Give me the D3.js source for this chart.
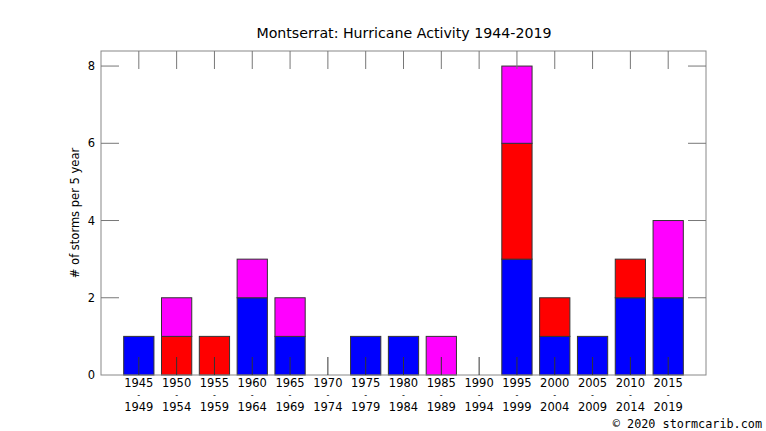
<!DOCTYPE html>
<html>
<head>
<meta charset="utf-8">
<script src="https://cdn.jsdelivr.net/npm/d3@7"></script>
<style>
  body { margin: 0; background: #fff; }
  svg { display: block; font-family: "DejaVu Sans", sans-serif; }
</style>
</head>
<body>
<svg id="chart" width="766" height="431"></svg>
<script>
// data
const startYears = [1945, 1950, 1955, 1960, 1965, 1970, 1975, 1980, 1985, 1990, 1995, 2000, 2005, 2010, 2015];
const blueCounts    = [1, 0, 0, 2, 1, 0, 1, 1, 0, 0, 3, 1, 1, 2, 2];
const redCounts     = [0, 1, 1, 0, 0, 0, 0, 0, 0, 0, 3, 1, 0, 1, 0];
const magentaCounts = [0, 1, 0, 1, 1, 0, 0, 0, 1, 0, 2, 0, 0, 0, 2];
const yTicks = [0, 2, 4, 6, 8];
const seriesColors = ['#0000ff', '#ff0000', '#ff00ff'];

const svg = d3.select('#chart');
const margin = {top: 51, right: 60, bottom: 56, left: 101};
const width = 766 - margin.left - margin.right;
const height = 431 - margin.top - margin.bottom;

const g = svg.append('g').attr('transform', 'translate(' + margin.left + ',' + margin.top + ')');

// one empty slot on each side, like the original
const x = d3.scaleLinear().domain([-1, startYears.length]).range([0, width]);
const y = d3.scaleLinear().domain([0, 8.39]).range([height, 0]);
const step = x(1) - x(0);
const barWidth = step * 0.8;

let rows = startYears.map((yr, i) => ({i: i, b: blueCounts[i], r: redCounts[i], m: magentaCounts[i]}));
let stacked = d3.stack().keys(['b', 'r', 'm'])(rows);

stacked.forEach((layer, k) => {
  g.append('g').selectAll('rect')
    .data(layer.filter(d => d[1] > d[0]))
    .enter()
    .append('rect')
      .attr('x', d => x(d.data.i) - barWidth / 2)
      .attr('y', d => y(d[1]))
      .attr('width', barWidth)
      .attr('height', d => y(d[0]) - y(d[1]))
      .attr('fill', seriesColors[k])
      .attr('stroke', '#333')
      .attr('stroke-width', 1);
});

// frame
g.append('rect')
  .attr('width', width).attr('height', height)
  .attr('fill', 'none').attr('stroke', '#888').attr('stroke-width', 1);

const tickLen = 18;
// x ticks, bottom and top, pointing inward
let xt = g.append('g');
startYears.forEach((yr, i) => {
  xt.append('line')
    .attr('x1', x(i)).attr('x2', x(i))
    .attr('y1', height).attr('y2', height - tickLen)
    .attr('stroke', '#333');
  xt.append('line')
    .attr('x1', x(i)).attr('x2', x(i))
    .attr('y1', 0).attr('y2', tickLen)
    .attr('stroke', '#777');
});

// y ticks left and right
let yt = g.append('g');
yTicks.forEach(t => {
  if (t === 0) return;
  yt.append('line')
    .attr('x1', 0).attr('x2', tickLen)
    .attr('y1', y(t)).attr('y2', y(t))
    .attr('stroke', '#777');
  yt.append('line')
    .attr('x1', width).attr('x2', width - tickLen)
    .attr('y1', y(t)).attr('y2', y(t))
    .attr('stroke', '#777');
});

// y tick labels
g.append('g').selectAll('text')
  .data(yTicks)
  .enter()
  .append('text')
    .attr('x', -6)
    .attr('y', d => y(d))
    .attr('dy', '0.35em')
    .attr('text-anchor', 'end')
    .attr('font-size', '11.5px')
    .text(d => d);

// x labels: start year, a dash, end year
let xl = g.append('g');
xl.selectAll('.yrFrom')
  .data(startYears)
  .enter()
  .append('text')
    .attr('class', 'yrFrom')
    .attr('x', (d, i) => x(i)).attr('y', height + 12)
    .attr('text-anchor', 'middle')
    .attr('font-size', '11.5px')
    .text(d => d);
xl.selectAll('.yrDash')
  .data(startYears)
  .enter()
  .append('text')
    .attr('class', 'yrDash')
    .attr('x', (d, i) => x(i)).attr('y', height + 22.8)
    .attr('text-anchor', 'middle')
    .attr('font-size', '8px')
    .text('-');
xl.selectAll('.yrTo')
  .data(startYears)
  .enter()
  .append('text')
    .attr('class', 'yrTo')
    .attr('x', (d, i) => x(i)).attr('y', height + 35.5)
    .attr('text-anchor', 'middle')
    .attr('font-size', '11.5px')
    .text(d => d + 4);

// title
svg.append('text')
  .attr('x', 404).attr('y', 38)
  .attr('text-anchor', 'middle')
  .attr('font-size', '14.2px')
  .text('Montserrat: Hurricane Activity 1944-2019');

// y axis label
svg.append('text')
  .attr('transform', 'translate(79,' + (margin.top + height / 2) + ') rotate(-90)')
  .attr('text-anchor', 'middle')
  .attr('font-size', '11.5px')
  .text('# of storms per 5 year');

// credit
svg.append('text')
  .attr('x', 762).attr('y', 428)
  .attr('text-anchor', 'end')
  .attr('font-family', '"DejaVu Sans Mono", monospace')
  .attr('font-size', '11.8px')
  .text('\u00a9 2020 stormcarib.com');
</script>
</body>
</html>
